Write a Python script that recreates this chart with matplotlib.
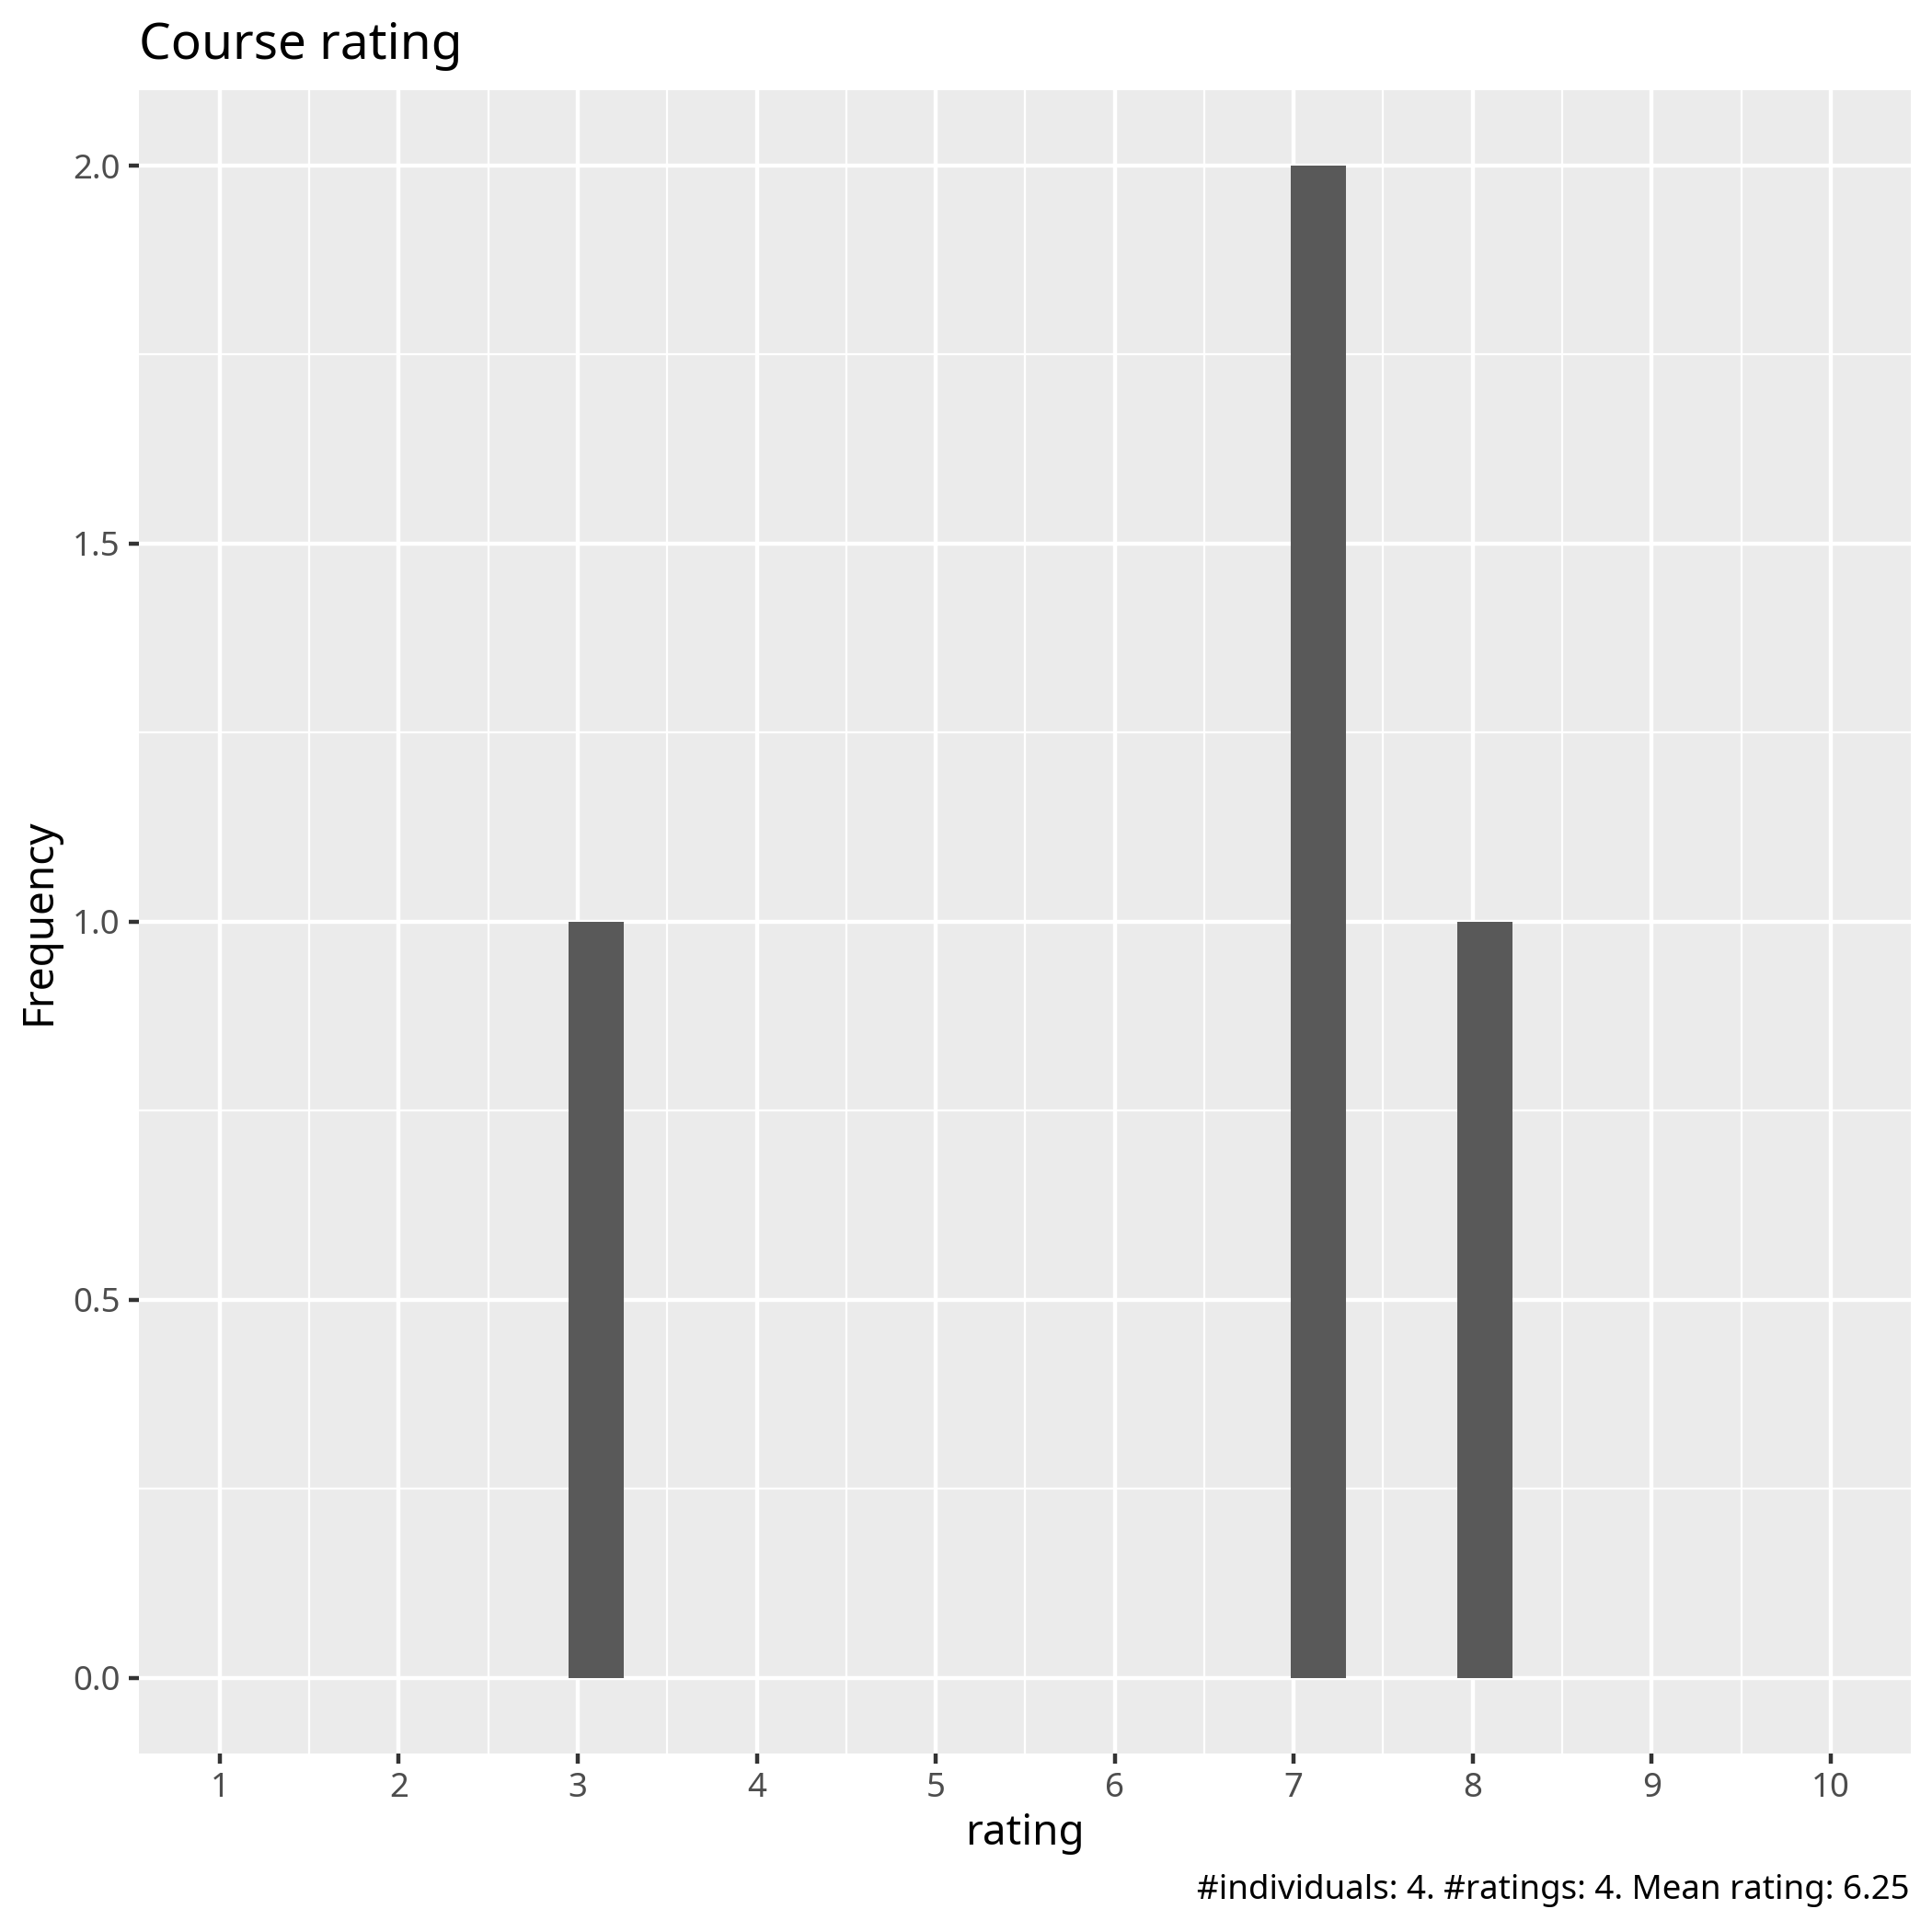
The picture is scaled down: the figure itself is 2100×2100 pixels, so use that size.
import numpy as np
import matplotlib
matplotlib.use('Agg')
import matplotlib.pyplot as plt


# ratings given in the course survey
ratings = [3, 7, 7, 8]
n_individuals = 4
x_breaks = [1, 2, 3, 4, 5, 6, 7, 8, 9, 10]
y_breaks = [0.0, 0.5, 1.0, 1.5, 2.0]

plt.rcParams['font.family'] = ['Noto Sans', 'DejaVu Sans']

# ggplot style bins: 30 bins over the x limits 1..10
lo, hi = x_breaks[0], x_breaks[-1]
bw = (hi - lo) / 29
edges = bw / 2 + np.arange(2, 40) * bw

fig = plt.figure(figsize=(7, 7), dpi=300)
ax = fig.add_axes([0.0721, 0.0925, 0.9171, 0.8609])
ax.set_facecolor('#EBEBEB')
ax.hist(ratings, bins=edges, color='#595959', zorder=3)

ax.set_xlim(lo - 0.05 * (hi - lo), hi + 0.05 * (hi - lo))
ax.set_ylim(-0.1, 2.1)
ax.set_xticks(x_breaks)
ax.set_xticklabels([str(v) for v in x_breaks])
ax.set_yticks(y_breaks)
ax.set_yticklabels(['%.1f' % v for v in y_breaks])
ax.set_xticks([v + 0.5 for v in x_breaks[:-1]], minor=True)
ax.set_yticks([0.25, 0.75, 1.25, 1.75], minor=True)

ax.grid(which='major', color='white', linewidth=1.07, zorder=1)
ax.grid(which='minor', color='white', linewidth=0.53, zorder=1)
ax.set_axisbelow(True)
for s in ax.spines.values():
    s.set_visible(False)
ax.tick_params(which='major', length=2.75, width=1.07, color='#333333',
               labelcolor='#4D4D4D', labelsize=8.8, pad=2.2)
ax.tick_params(which='minor', length=0)

fig.text(0.0721, 0.9695, 'Course rating', fontsize=13.2, ha='left', va='baseline')
fig.text(0.0204, 0.5229, 'Frequency', fontsize=11, rotation=90, ha='center', va='center')
fig.text(0.5306, 0.0453, 'rating', fontsize=11, ha='center', va='baseline')
caption = '#individuals: %d. #ratings: %d. Mean rating: %.2f' % (
    n_individuals, len(ratings), np.mean(ratings))
fig.text(0.9885, 0.0172, caption, fontsize=8.8, ha='right', va='baseline')

plt.savefig('out.png', dpi=300)
